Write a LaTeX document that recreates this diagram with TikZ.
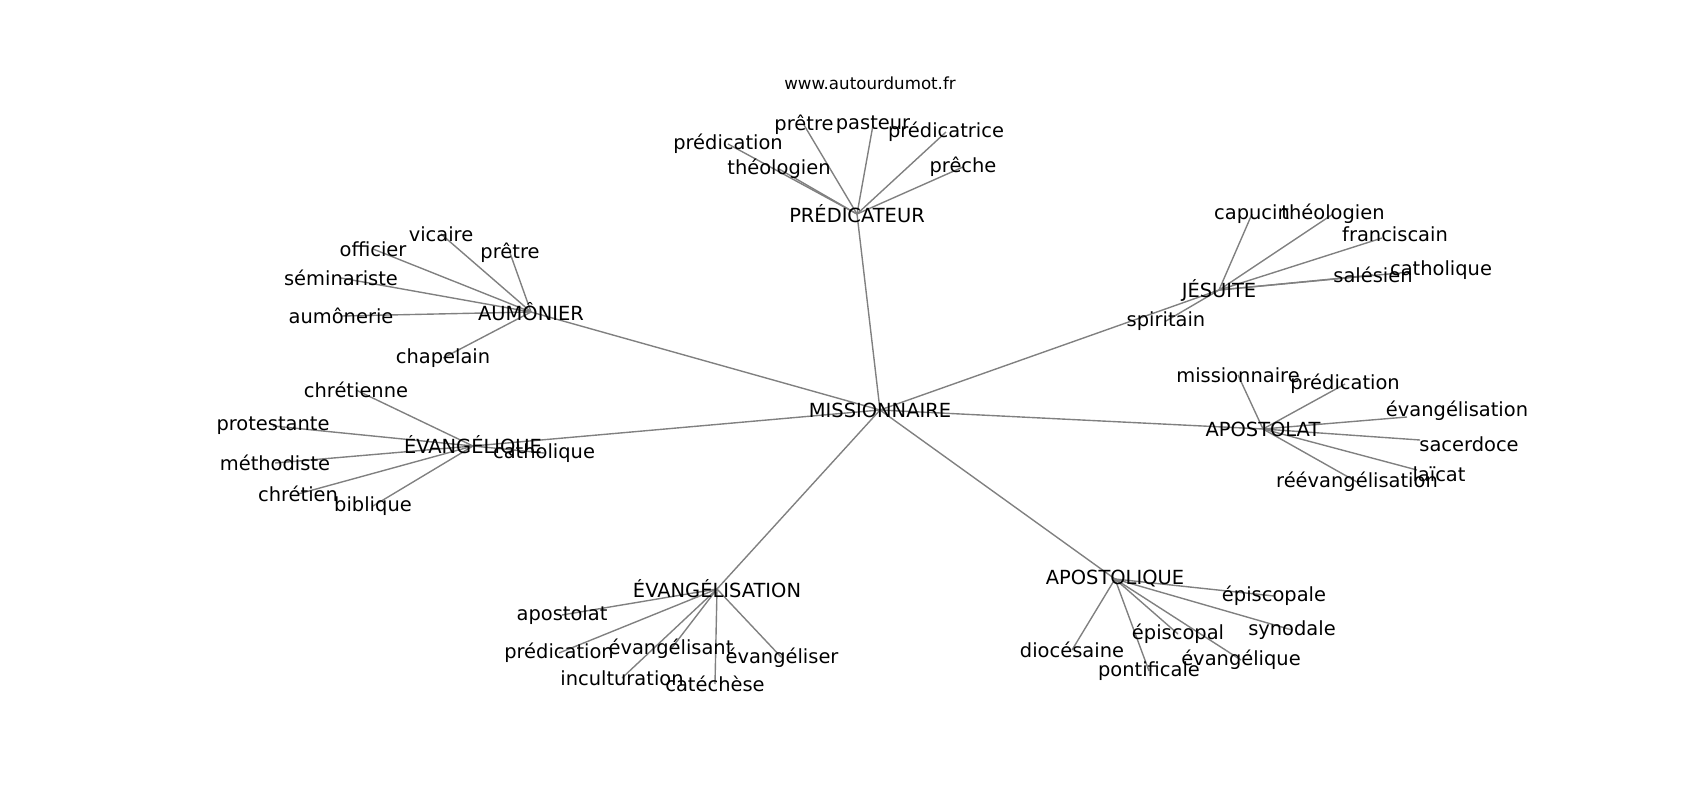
\documentclass[tikz,border=0pt]{standalone}
\usepackage{fontspec}
\setmainfont{DejaVu Sans}
\usepackage{tikz}
\usetikzlibrary{positioning}
\pgfdeclarelayer{bg}
\pgfsetlayers{bg,main}
\tikzstyle{edge} = [draw,gray,line width=1pt]
\tikzstyle{word} = [inner sep=0pt,font=\fontsize{14}{16}\selectfont]
\tikzstyle{site} = [inner sep=0pt,font=\fontsize{12}{14}\selectfont]

\begin{document}
\begin{tikzpicture}[x=0.72pt,y=-0.72pt]
\useasboundingbox (0,0) rectangle (1700,800);

 \node[site] (site) at (870,83) {www.autourdumot.fr};

 % centre
 \node[word] (missionnaire) at (880,410) {MISSIONNAIRE};

 % premier cercle
 \node[word] (predicateur) at (857,214) {PRÉDICATEUR};
 \node[word] (aumonier) at (531,312) {AUMÔNIER};
 \node[word] (evangelique) at (473,446) {ÉVANGÉLIQUE};
 \node[word] (evangelisation) at (717,589) {ÉVANGÉLISATION};
 \node[word] (apostolique) at (1115,579) {APOSTOLIQUE};
 \node[word] (apostolat) at (1263,429) {APOSTOLAT};
 \node[word] (jesuite) at (1219,290) {JÉSUITE};

 % PRÉDICATEUR
 \node[word] (pred-pretre) at (804,125) {prêtre};
 \node[word] (pred-pasteur) at (873,125) {pasteur};
 \node[word] (pred-predicatrice) at (946,132) {prédicatrice};
 \node[word] (pred-predication) at (728,144) {prédication};
 \node[word] (pred-theologien) at (779,169) {théologien};
 \node[word] (pred-preche) at (963,167) {prêche};

 % AUMÔNIER
 \node[word] (aum-vicaire) at (441,234) {vicaire};
 \node[word] (aum-officier) at (373,249) {officier};
 \node[word] (aum-pretre) at (510,253) {prêtre};
 \node[word] (aum-seminariste) at (341,278) {séminariste};
 \node[word] (aum-aumonerie) at (341,316) {aumônerie};
 \node[word] (aum-chapelain) at (443,358) {chapelain};

 % ÉVANGÉLIQUE
 \node[word] (evq-chretienne) at (356,390) {chrétienne};
 \node[word] (evq-protestante) at (273,426) {protestante};
 \node[word] (evq-methodiste) at (275,463) {méthodiste};
 \node[word] (evq-catholique) at (544,453) {catholique};
 \node[word] (evq-chretien) at (298,494) {chrétien};
 \node[word] (evq-biblique) at (373,506) {biblique};

 % ÉVANGÉLISATION
 \node[word] (evn-apostolat) at (562,615) {apostolat};
 \node[word] (evn-predication) at (559,653) {prédication};
 \node[word] (evn-evangelisant) at (671,649) {évangélisant};
 \node[word] (evn-evangeliser) at (782,658) {évangéliser};
 \node[word] (evn-inculturation) at (622,678) {inculturation};
 \node[word] (evn-catechese) at (715,684) {catéchèse};

 % APOSTOLIQUE
 \node[word] (apq-episcopale) at (1274,596) {épiscopale};
 \node[word] (apq-synodale) at (1292,630) {synodale};
 \node[word] (apq-episcopal) at (1178,634) {épiscopal};
 \node[word] (apq-evangelique) at (1241,660) {évangélique};
 \node[word] (apq-diocesaine) at (1072,650) {diocésaine};
 \node[word] (apq-pontificale) at (1149,671) {pontificale};

 % APOSTOLAT
 \node[word] (apt-missionnaire) at (1238,375) {missionnaire};
 \node[word] (apt-predication) at (1345,384) {prédication};
 \node[word] (apt-evangelisation) at (1457,411) {évangélisation};
 \node[word] (apt-sacerdoce) at (1469,444) {sacerdoce};
 \node[word] (apt-laicat) at (1439,474) {laïcat};
 \node[word] (apt-reevangelisation) at (1357,482) {réévangélisation};
 \coordinate (apt-evangelisation-end) at (1407,417);
 \coordinate (apt-sacerdoce-end) at (1420,440);
 \coordinate (apt-laicat-end) at (1417,470);

 % JÉSUITE
 \node[word] (jes-capucin) at (1252,214) {capucin};
 \node[word] (jes-theologien) at (1333,214) {théologien};
 \node[word] (jes-franciscain) at (1395,234) {franciscain};
 \node[word] (jes-salesien) at (1373,275) {salésien};
 \node[word] (jes-catholique) at (1441,270) {catholique};
 \node[word] (jes-spiritain) at (1166,321) {spiritain};
 \coordinate (jes-franciscain-end) at (1382,238);
 \coordinate (jes-catholique-end) at (1410,272);

 \begin{pgfonlayer}{bg}
 \foreach \g in {predicateur,aumonier,evangelique,evangelisation,apostolique,apostolat,jesuite}
   \path[edge] (missionnaire.center) -- (\g.center);
 \foreach \l in {pretre,pasteur,predicatrice,predication,theologien,preche}
   \path[edge] (predicateur.center) -- (pred-\l.center);
 \foreach \l in {vicaire,officier,pretre,seminariste,aumonerie,chapelain}
   \path[edge] (aumonier.center) -- (aum-\l.center);
 \foreach \l in {chretienne,protestante,methodiste,catholique,chretien,biblique}
   \path[edge] (evangelique.center) -- (evq-\l.center);
 \foreach \l in {apostolat,predication,evangelisant,evangeliser,inculturation,catechese}
   \path[edge] (evangelisation.center) -- (evn-\l.center);
 \foreach \l in {episcopale,synodale,episcopal,evangelique,diocesaine,pontificale}
   \path[edge] (apostolique.center) -- (apq-\l.center);
 \foreach \l in {missionnaire,predication,reevangelisation}
   \path[edge] (apostolat.center) -- (apt-\l.center);
 \foreach \l in {evangelisation,sacerdoce,laicat}
   \path[edge] (apostolat.center) -- (apt-\l-end);
 \foreach \l in {capucin,theologien,salesien,spiritain}
   \path[edge] (jesuite.center) -- (jes-\l.center);
 \foreach \l in {franciscain,catholique}
   \path[edge] (jesuite.center) -- (jes-\l-end);
 \end{pgfonlayer}

\end{tikzpicture}
\end{document}
